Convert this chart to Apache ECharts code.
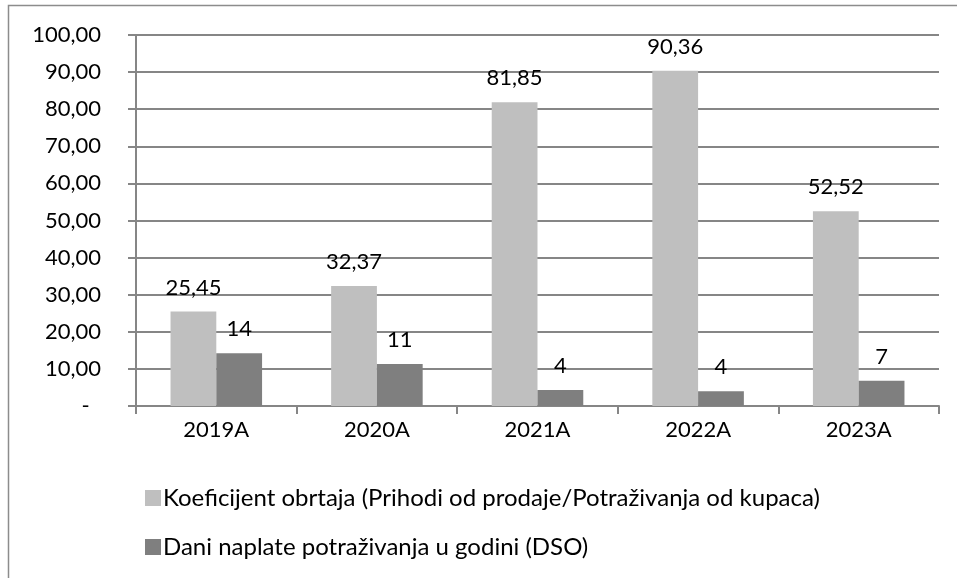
<!DOCTYPE html>
<html><head><meta charset="utf-8">
<script src="https://cdn.jsdelivr.net/npm/echarts@6/dist/echarts.min.js"></script>
<style>html,body{margin:0;padding:0;background:#fff}#c{width:957px;height:578px}</style>
</head><body><div id="c"></div>
<script>
var categories = ['2019A','2020A','2021A','2022A','2023A'];
var turnover = [25.45, 32.37, 81.85, 90.36, 52.52];
var dso = [14.2, 11.3, 4.3, 4.0, 6.8];
var seriesNames = ['Koeficijent obrtaja (Prihodi od prodaje/Potraživanja od kupaca)', 'Dani naplate potraživanja u godini (DSO)'];
var FONT = 'Lato';
var chart = echarts.init(document.getElementById('c'));
chart.setOption({
  animation: false,
  textStyle: {fontFamily: FONT},
  graphic: [{type:'rect', shape:{x:8.5,y:5.5,width:1000,height:1000}, style:{fill:'none', stroke:'#8c8c8c', lineWidth:1.5}, z:-1}],
  grid: {left:136, right:18, top:35, bottom:172},
  xAxis: {
    type:'category', data: categories,
    axisLine:{lineStyle:{color:'#868686', width:2}},
    axisTick:{show:true, length:8, lineStyle:{color:'#868686', width:2}},
    axisLabel:{color:'#000', fontSize:22, margin:13, fontFamily:FONT}
  },
  yAxis: {
    type:'value', min:0, max:100, interval:10,
    axisLine:{show:true, lineStyle:{color:'#868686', width:2}},
    axisTick:{show:true, length:8, lineStyle:{color:'#868686', width:2}},
    splitLine:{lineStyle:{color:'#868686', width:2}},
    axisLabel:{color:'#000', fontSize:22, margin:35, fontFamily:FONT,
      formatter:function(v){ return v===0 ? '-  ' : v.toFixed(2).replace('.', ','); }}
  },
  legend: {
    orient:'vertical', left:140, top:481, itemWidth:16, itemHeight:16, itemGap:25,
    icon:'rect',
    textStyle:{color:'#000', fontSize:24, fontFamily:FONT, padding:[0,0,0,-3]},
    data: seriesNames
  },
  series: [
    {name:seriesNames[0], type:'bar', data:turnover, barGap:'0%', barCategoryGap:'43%',
      itemStyle:{color:'#bfbfbf'},
      label:{show:true, position:'top', distance:13, color:'#000', fontSize:22, fontFamily:FONT,
        formatter:function(p){ return p.value.toFixed(2).replace('.', ','); }}},
    {name:seriesNames[1], type:'bar', data:dso,
      itemStyle:{color:'#7f7f7f'},
      label:{show:true, position:'top', distance:13, color:'#000', fontSize:22, fontFamily:FONT,
        formatter:function(p){ return Math.round(p.value).toString(); }}}
  ]
});
</script></body></html>
